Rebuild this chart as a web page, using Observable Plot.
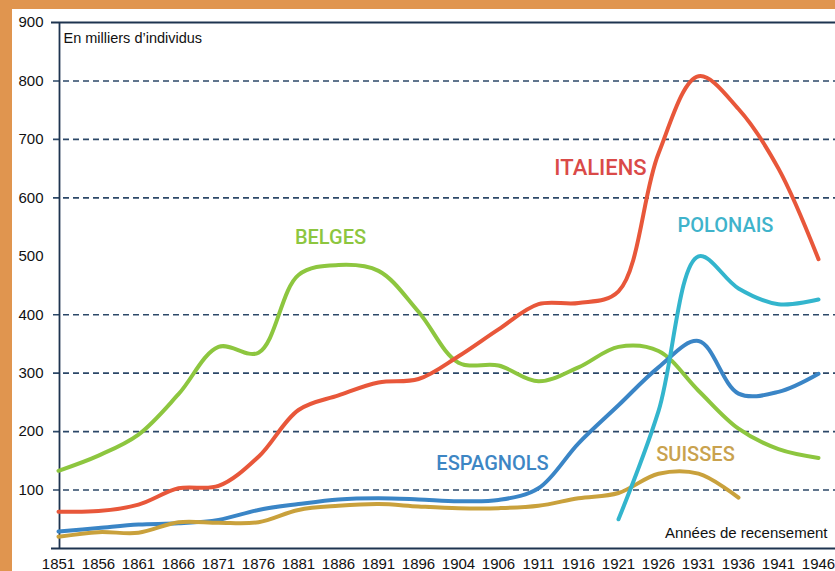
<!DOCTYPE html>
<html>
<head>
<meta charset="utf-8">
<script src="https://cdn.jsdelivr.net/npm/d3@7"></script>
<script src="https://cdn.jsdelivr.net/npm/@observablehq/plot@0.6"></script>
<style>
  html, body { margin: 0; padding: 0; width: 835px; height: 571px; overflow: hidden; background: #e0954f; }
  #panel { position: absolute; left: 12px; top: 9px; width: 823px; height: 562px; background: #ffffff; overflow: hidden; }
</style>
</head>
<body>
<div id="panel"></div>
<script>
// Census years (tick labels, equally spaced)
const years = ["1851","1856","1861","1866","1871","1876","1881","1886","1891","1896","1904","1906","1911","1916","1921","1926","1931","1936","1941","1946"];
// Values in thousands of people
const belges    = [133,159,195,264,345,335,468,485,475,405,318,313,286,310,345,338,270,205,170,155];
const italiens  = [63,64,75,103,107,157,237,262,284,290,329,375,418,420,440,676,808,752,650,495];
const espagnols = [29,35,41,43,49,66,76,84,86,84,81,83,103,180,245,310,355,265,268,299];
const suisses   = [20,28,27,45,44,45,66,73,76,72,69,69,73,86,95,128,128,87,null,null];
const polonais  = [null,null,null,null,null,null,null,null,null,null,null,null,null,null,50,235,500,445,418,426];
const yTicks = [100,200,300,400,500,600,700,800,900];
const gridValues = [100,200,300,400,600,700,800];
const unitLabel = "En milliers d’individus";
const xLabel = "Années de recensement";

const series = [
  {name: "BELGES", values: belges},
  {name: "ESPAGNOLS", values: espagnols},
  {name: "SUISSES", values: suisses},
  {name: "ITALIENS", values: italiens},
  {name: "POLONAIS", values: polonais}
];
const colors = {BELGES: "#8dc63f", ESPAGNOLS: "#3a85c6", SUISSES: "#c9a13c", ITALIENS: "#e8573a", POLONAIS: "#33b5cd"};
const rows = series.flatMap(s => years.map((year, i) => ({series: s.name, year, value: s.values[i]})));

const sans = '"Liberation Sans", Arial, sans-serif';
const labelFont = 'Roboto, "Noto Sans", sans-serif';

const chart = Plot.plot({
  width: 823,
  height: 562,
  marginLeft: 39,
  marginRight: 11,
  marginTop: 13,
  marginBottom: 23,
  style: {fontFamily: sans, fontSize: "15px", color: "#111", background: "transparent", overflow: "visible"},
  x: {type: "point", domain: years, padding: 0, label: null},
  y: {domain: [0, 900], label: null},
  marks: [
    Plot.ruleY(gridValues, {stroke: "#2c4868", strokeWidth: 1.6, strokeDasharray: "6,4", insetLeft: 2, insetRight: -12}),
    Plot.ruleY([0, 900], {stroke: "#1e3450", strokeWidth: 1.8, insetLeft: 0, insetRight: -12}),
    Plot.ruleX([years[0]], {stroke: "#1e3450", strokeWidth: 1.8, dx: 1}),
    Plot.axisY(yTicks, {tickSize: 0, tickPadding: 8, fontSize: 15, label: null}),
    Plot.axisX(years, {tickSize: 0, tickPadding: 10, fontSize: 15, label: null}),
    Plot.line(rows, {x: "year", y: "value", z: "series", stroke: d => colors[d.series], strokeWidth: 4, curve: "catmull-rom", strokeLinecap: "round", strokeLinejoin: "round"}),
    Plot.text(["ITALIENS"], {x: () => "1921", y: () => 651, text: d => d, fill: "#da4a48", fontFamily: labelFont, fontWeight: 500, fontSize: 22, dx: -18}),
    Plot.text(["BELGES"], {x: () => "1886", y: () => 532, text: d => d, fill: "#8dc63f", fontFamily: labelFont, fontWeight: 500, fontSize: 20, dx: -8}),
    Plot.text(["POLONAIS"], {x: () => "1936", y: () => 553, text: d => d, fill: "#3fb3cb", fontFamily: labelFont, fontWeight: 500, fontSize: 20, dx: -13}),
    Plot.text(["ESPAGNOLS"], {x: () => "1906", y: () => 146, text: d => d, fill: "#3d86c4", fontFamily: labelFont, fontWeight: 500, fontSize: 20, dx: -6}),
    Plot.text(["SUISSES"], {x: () => "1931", y: () => 160, text: d => d, fill: "#c9a24e", fontFamily: labelFont, fontWeight: 500, fontSize: 20, dx: -3}),
    Plot.text([unitLabel], {text: d => d, frameAnchor: "top-left", textAnchor: "start", lineAnchor: "top", dx: 12, dy: 10, fontSize: 14.5, fill: "#111"}),
    Plot.text([xLabel], {text: d => d, frameAnchor: "bottom-right", textAnchor: "end", lineAnchor: "bottom", dx: 3, dy: -11, fontSize: 15, fill: "#111"})
  ]
});
document.getElementById("panel").appendChild(chart);
</script>
</body>
</html>
